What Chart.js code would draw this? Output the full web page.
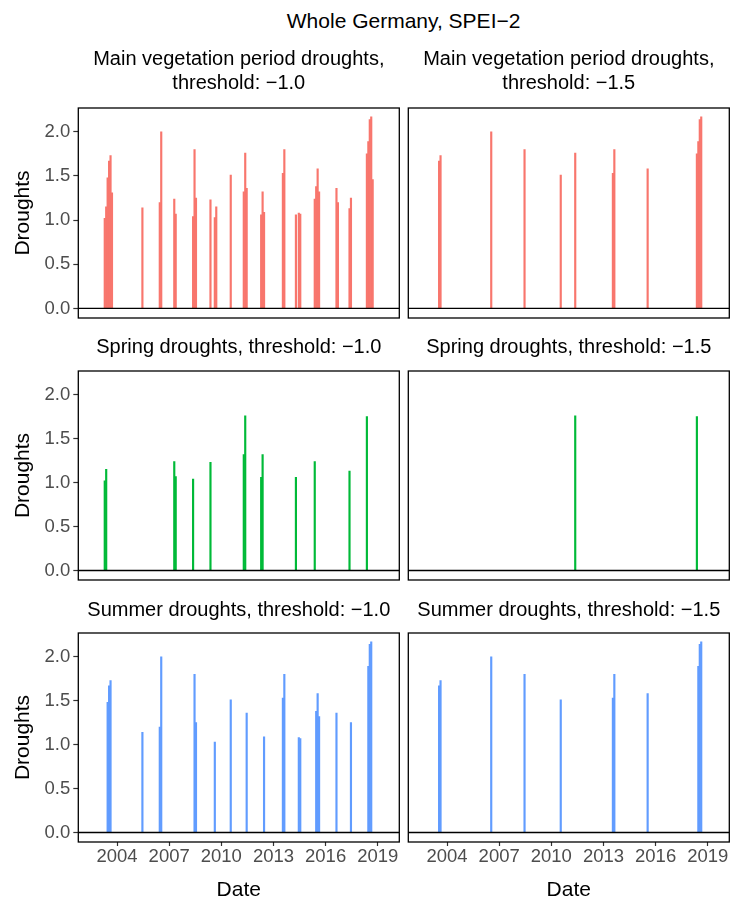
<!DOCTYPE html>
<html>
<head>
<meta charset="utf-8">
<script src="https://cdn.jsdelivr.net/npm/chart.js@4.4.1/dist/chart.umd.min.js"></script>
<style>
  html, body { margin: 0; padding: 0; background: #fff; overflow: hidden; }
  body { width: 731px; height: 903px; position: relative; font-family: "Liberation Sans", Arial, sans-serif; }
  canvas { position: absolute; }
  #main-title { position: absolute; top: 9px; left: 403.6px; transform: translateX(-50%); white-space: nowrap; font-size: 21px; line-height: 24px; color: #000; }
</style>
</head>
<body>
<div id="main-title">Whole Germany, SPEI−2</div>
<script>
// monthly drought magnitude (negative SPEI-2), main vegetation period months only
var droughtMonths = [
  "2003-04", "2003-05", "2003-06", "2003-07", "2003-08", "2003-09",
  "2005-06",
  "2006-06", "2006-07",
  "2007-04", "2007-05",
  "2008-05", "2008-06", "2008-07",
  "2009-05", "2009-08", "2009-09",
  "2010-07",
  "2011-04", "2011-05", "2011-06",
  "2012-04", "2012-05", "2012-06",
  "2013-07", "2013-08",
  "2014-04", "2014-06", "2014-07",
  "2015-05", "2015-06", "2015-07", "2015-08",
  "2016-08", "2016-09",
  "2017-05", "2017-06",
  "2018-05", "2018-06", "2018-07", "2018-08", "2018-09"
];
var droughtValues = [
  1.02, 1.15, 1.48, 1.67, 1.73, 1.31,
  1.14,
  1.20, 2.00,
  1.24, 1.07,
  1.04, 1.80, 1.25,
  1.23, 1.03, 1.15,
  1.51,
  1.32, 1.76, 1.36,
  1.06, 1.32, 1.09,
  1.53, 1.80,
  1.06, 1.08, 1.07,
  1.24, 1.38, 1.58, 1.32,
  1.36, 1.20,
  1.13, 1.25,
  1.75, 1.89, 2.14, 2.17, 1.46
];

var seasonNames = ["Main vegetation period droughts", "Spring droughts", "Summer droughts"];
var seasonMonths = [[4, 5, 6, 7, 8, 9], [3, 4, 5], [6, 7, 8]];
var seasonColors = ["#F8766D", "#00BA38", "#619CFF"];
var thresholds = [1.0, 1.5];
var thresholdLabels = ["−1.0", "−1.5"];
var xTicks = [2004, 2007, 2010, 2013, 2016, 2019];
var yTicks = [0, 0.5, 1, 1.5, 2];

var FONT = "'Liberation Sans', Arial, sans-serif";

// page layout of the 3x2 grid
var rowTop = [36, 322, 584];
var rowHeight = [286, 262, 319];
var titlePad = [{top: 11.5, bottom: 12.5}, {top: 13.5, bottom: 11.5}, {top: 14, bottom: 11}];
var colLeft = [0, 404];
var colWidth = [404, 327];
var colPad = [{left: 0, right: 4.7}, {left: 4.3, right: 1.7}];

function toYear(s) {
  var p = s.split("-");
  return +p[0] + (+p[1] - 0.5) / 12;
}

var panelFrame = {
  id: "panelFrame",
  afterDatasetsDraw: function(chart) {
    var ctx = chart.ctx, a = chart.chartArea;
    var y0 = chart.scales.y.getPixelForValue(0);
    ctx.save();
    ctx.strokeStyle = "#000";
    ctx.lineWidth = 1.3;
    ctx.beginPath();
    ctx.moveTo(a.left, y0);
    ctx.lineTo(a.right, y0);
    ctx.stroke();
    ctx.strokeRect(a.left, a.top, a.right - a.left, a.bottom - a.top);
    ctx.restore();
  }
};

function makePanel(row, col) {
  var cv = document.createElement("canvas");
  cv.width = colWidth[col];
  cv.height = rowHeight[row];
  cv.style.left = colLeft[col] + "px";
  cv.style.top = rowTop[row] + "px";
  document.body.appendChild(cv);

  var pts = [];
  droughtMonths.forEach(function(m, i) {
    var month = +m.split("-")[1];
    if (seasonMonths[row].indexOf(month) >= 0 && droughtValues[i] >= thresholds[col]) {
      pts.push({x: toYear(m), y: droughtValues[i]});
    }
  });

  var titleText = row === 0
    ? [seasonNames[row] + ",", "threshold: " + thresholdLabels[col]]
    : seasonNames[row] + ", threshold: " + thresholdLabels[col];

  var showX = row === 2;
  var showY = col === 0;

  new Chart(cv.getContext("2d"), {
    type: "bar",
    data: {
      datasets: [{
        data: pts,
        backgroundColor: seasonColors[row],
        borderWidth: 0,
        barThickness: 1.5,
        grouped: false
      }]
    },
    options: {
      responsive: false,
      animation: false,
      layout: {
        padding: {left: colPad[col].left, right: colPad[col].right, top: 0, bottom: showX ? 0 : 4}
      },
      plugins: {
        legend: {display: false},
        tooltip: {enabled: false},
        title: {
          display: true,
          text: titleText,
          fullSize: false,
          color: "#000",
          font: {size: 20, family: FONT, weight: "normal", lineHeight: 1.2},
          padding: titlePad[row]
        }
      },
      scales: {
        x: {
          type: "linear",
          min: 2001.77,
          max: 2020.24,
          offset: false,
          display: showX,
          grid: {display: true, drawOnChartArea: false, drawTicks: true, tickLength: 4, tickWidth: 1.2, tickColor: "#333", offset: false},
          border: {display: false},
          ticks: {
            color: "#4d4d4d",
            font: {size: 18.5, family: FONT},
            padding: 0,
            maxRotation: 0,
            autoSkip: false,
            callback: function(v) { return String(v); }
          },
          afterBuildTicks: function(s) { s.ticks = xTicks.map(function(v) { return {value: v}; }); },
          afterFit: function(s) {
            if (!showX) return;
            s.height = 61; s.paddingLeft = 0; s.paddingRight = 0;
          },
          title: {display: true, text: "Date", color: "#000", font: {size: 21, family: FONT}, padding: {top: 0, bottom: 0}}
        },
        y: {
          type: "linear",
          min: -0.108,
          max: 2.27,
          display: showY,
          grid: {display: true, drawOnChartArea: false, drawTicks: true, tickLength: 5, tickWidth: 1.2, tickColor: "#333"},
          border: {display: false},
          ticks: {
            color: "#4d4d4d",
            font: {size: 18.5, family: FONT},
            padding: 3,
            autoSkip: false,
            callback: function(v) { return v.toFixed(1); }
          },
          afterBuildTicks: function(s) { s.ticks = yTicks.map(function(v) { return {value: v}; }); },
          afterFit: function(s) {
            if (!showY) return;
            s.width = 78.3; s.paddingTop = 0; s.paddingBottom = 0;
          },
          title: {display: true, text: "Droughts", color: "#000", font: {size: 21, family: FONT}, padding: {top: 10.6, bottom: 0}}
        }
      }
    },
    plugins: [panelFrame]
  });
}

for (var r = 0; r < 3; r++) {
  for (var c = 0; c < 2; c++) {
    makePanel(r, c);
  }
}
</script>
</body>
</html>
